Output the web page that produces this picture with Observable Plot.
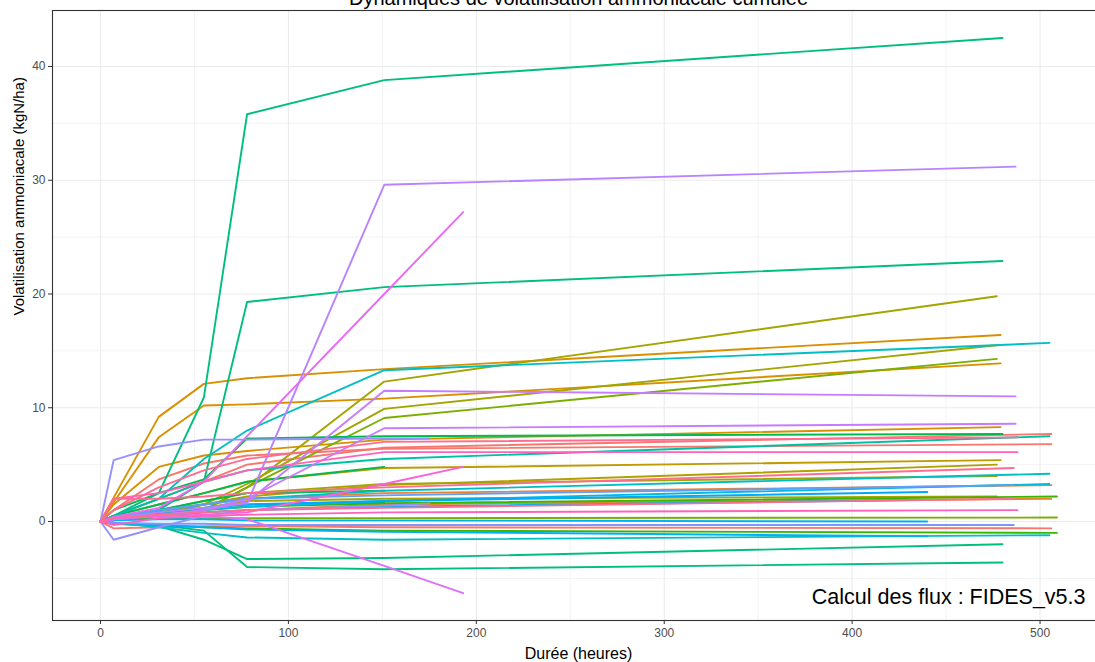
<!DOCTYPE html>
<html><head><meta charset="utf-8">
<script src="https://cdn.jsdelivr.net/npm/d3@7"></script>
<script src="https://cdn.jsdelivr.net/npm/@observablehq/plot@0.6"></script>
<style>
html,body{margin:0;padding:0;background:#fff;overflow:hidden;width:1095px;height:662px}
#chart{width:1095px;height:662px;overflow:hidden}
#chart svg{display:block;max-width:none !important;width:1106px !important;height:662px !important;font-family:"Liberation Sans",Arial,sans-serif}
</style>
</head><body><div id="chart"></div>
<script>
// Shared measurement times (hours); the last point of each series is at its own end time
const times = [0, 7, 31, 55, 78, 151];

// Each row: [series id, end time (h), values at 0,7,31,55,78,151,end] (kgN/ha)
const redOrangeSeries = [
  ["S01", 506, [0, 0.5, 2.0, 3.5, 5.0, 6.5, 7.7]],
  ["S02", 506, [0, 1.0, 3.7, 5.1, 5.8, 6.4, 6.8]],
  ["S03", 506, [0, -0.6, -0.5, -0.4, -0.4, -0.5, -0.6]],
  ["S04", 506, [0, 0.3, 1.0, 1.5, 2.0, 2.5, 3.2]],
  ["S05", 506, [0, 0.2, 0.5, 0.8, 1.0, 1.5, 2.0]],
  ["S06", 479, [0, 2.1, 9.2, 12.1, 12.6, 13.4, 16.4]],
  ["S07", 479, [0, 1.7, 7.4, 10.2, 10.3, 10.8, 13.9]],
  ["S08", 479, [0, 1.5, 4.8, 5.8, 6.2, 7.2, 8.3]]
];
const oliveGreenSeries = [
  ["S09", 479, [0, 0.5, 1.5, 2.5, 3.5, 4.7, 5.4]],
  ["S10", 477, [0, 0.3, 0.8, 1.5, 2.2, 3.2, 5.0]],
  ["S11", 477, [0, 0.3, 0.5, 1.0, 3.0, 12.3, 19.8]],
  ["S12", 477, [0, 0.3, 0.5, 1.5, 3.3, 9.9, 15.5]],
  ["S13", 477, [0, 0.3, 1.0, 1.8, 2.5, 3.3, 4.0]],
  ["S14", 477, [0, 0.2, 0.5, 1.2, 1.8, 2.0, 2.2]],
  ["S15", 477, [0, 0.3, 0.5, 1.0, 3.0, 9.1, 14.3]],
  ["S16", 509, [0, 0.2, 0.3, 0.3, 0.3, 0.3, 0.35]],
  ["S17", 509, [0, 0.3, 0.8, 1.0, 1.3, 1.6, 2.2]],
  ["S18", 509, [0, -0.2, -0.3, -0.5, -0.6, -0.8, -1.0]],
  ["S19", 151, [0, 0.5, 1.5, 2.5, 3.5, 4.8, null]],
  ["S20", 151, [0, 0.3, 1.0, 1.8, 2.5, 2.7, null]],
  ["S21", 151, [0, 0.3, 0.7, 1.2, 1.5, 1.7, null]],
  ["S22", 480, [0, 1.0, 2.5, 3.7, 7.3, 7.5, 7.7]],
  ["S23", 480, [0, 0.5, 2.5, 10.9, 35.8, 38.8, 42.5]],
  ["S24", 480, [0, 0.3, 1.0, 3.5, 19.3, 20.6, 22.9]],
  ["S25", 480, [0, -0.2, -0.4, -1.6, -3.3, -3.2, -2.0]],
  ["S26", 480, [0, -0.1, -0.3, -0.8, -4.0, -4.2, -3.6]]
];
const cyanBlueSeries = [
  ["S27", 505, [0, -0.1, -0.5, -1.0, -1.4, -1.6, -1.2]],
  ["S28", 505, [0, 0.5, 2.0, 5.5, 8.0, 13.3, 15.7]],
  ["S29", 505, [0, 0.5, 2.0, 3.5, 4.5, 5.5, 7.5]],
  ["S30", 505, [0, 0.3, 1.0, 1.5, 2.0, 2.7, 4.2]],
  ["S31", 505, [0, 0.2, 0.6, 1.0, 1.3, 1.8, 3.3]],
  ["S32", 440, [0, 0.3, 0.8, 1.2, 1.5, 1.8, 2.6]],
  ["S33", 440, [0, 0.2, 0.5, 0.8, 1.0, 1.3, 1.9]],
  ["S34", 440, [0, 0.1, 0.2, 0.2, 0.1, 0.1, 0.0]],
  ["S35", 440, [0, -0.1, -0.3, -0.5, -0.7, -0.9, -1.3]],
  ["S36", 486, [0, 0.3, 1.0, 1.5, 2.0, 2.3, 3.2]],
  ["S37", 486, [0, -0.1, -0.2, -0.2, -0.3, -0.3, -0.3]]
];
const purplePinkSeries = [
  ["S38", 175, [0, -1.6, -0.5, 0.5, 1.0, 1.4, 1.6]],
  ["S39", 175, [0, 5.4, 6.6, 7.2, 7.2, 7.3, 7.3]],
  ["S40", 487, [0, 0.3, 0.8, 1.2, 1.6, 29.6, 31.2]],
  ["S41", 487, [0, 0.2, 0.5, 1.0, 1.7, 11.5, 11.0]],
  ["S42", 487, [0, 0.3, 0.6, 1.0, 2.0, 8.2, 8.6]],
  ["S43", 193, [0, 0.4, 1.2, 3.5, 7.5, 20.0, 27.2]],
  ["S44", 193, [0, 0.2, 0.5, 0.5, 0.2, -3.9, -6.3]],
  ["S45", 193, [0, 0.3, 0.5, 0.6, 0.8, 3.3, 4.8]],
  ["S46", 488, [0, 1.0, 3.0, 4.5, 5.5, 7.0, 7.4]],
  ["S47", 488, [0, 2.0, 2.5, 3.5, 4.5, 6.1, 6.1]],
  ["S48", 486, [0, 2.0, 2.0, 2.2, 2.5, 3.0, 4.7]],
  ["S49", 486, [0, 0.3, 0.6, 0.8, 1.0, 1.2, 2.0]],
  ["S50", 488, [0, -0.3, 0.3, 0.5, 0.6, 0.8, 1.0]]
];

// Colour scale range (ggplot-like hue palette), one per series in order
const palette = [
  "#F8766D","#F8766D","#F8766D","#EA8331","#EA8331","#D89000","#D89000","#D89000",
  "#C09B00","#B0A000","#A3A500","#A3A500","#A3A500","#A3A500","#7CAE00","#7CAE00","#39B600","#39B600",
  "#00BB4E","#00BB4E","#00BB4E","#00BB4E","#00BF7D","#00BF7D","#00BF7D","#00BF7D",
  "#00BFC4","#00BFC4","#00C1A3","#00BFC4","#00BAE0","#00A9FF","#00B0F6","#00B0F6","#00B0F6","#619CFF","#7F96FF",
  "#9590FF","#9590FF","#B983FF","#C77CFF","#C77CFF","#E76BF3","#DC71FA","#FA62DB",
  "#FF6C91","#FF62BC","#FF6C91","#FF6C91","#FF62BC"
];

const title = "Dynamiques de volatilisation ammoniacale cumulée";
const xLabel = "Durée (heures)";
const yLabel = "Volatilisation ammoniacale (kgN/ha)";
const caption = "Calcul des flux : FIDES_v5.3";
const xTicks = [0, 100, 200, 300, 400, 500];
const xMinor = [50, 150, 250, 350, 450];
const yTicks = [0, 10, 20, 30, 40];
const yMinor = [-5, 5, 15, 25, 35];

const allSeries = [...redOrangeSeries, ...oliveGreenSeries, ...cyanBlueSeries, ...purplePinkSeries];
const ids = allSeries.map(s => s[0]);
const rows = [];
for (const [id, end, vals] of allSeries) {
  const ts = [...times, end];
  vals.forEach((v, i) => { if (v !== null) rows.push({id, t: ts[i], v}); });
}

const W = 1106, H = 662;
const plot = Plot.plot({
  width: W, height: H,
  marginLeft: 52, marginRight: 2, marginTop: 10, marginBottom: 42,
  style: {fontFamily: '"Liberation Sans", Arial, sans-serif', background: "#fff", maxWidth: "none"},
  x: {domain: [-25.55, 534.3]},
  y: {domain: [-8.70, 44.92]},
  color: {type: "ordinal", domain: ids, range: palette},
  marks: [
    Plot.ruleX(xMinor, {stroke: "#EBEBEB", strokeWidth: 0.6}),
    Plot.ruleY(yMinor, {stroke: "#EBEBEB", strokeWidth: 0.6}),
    Plot.ruleX(xTicks, {stroke: "#EBEBEB", strokeWidth: 1.1}),
    Plot.ruleY(yTicks, {stroke: "#EBEBEB", strokeWidth: 1.1}),
    Plot.line(rows, {x: "t", y: "v", z: "id", stroke: "id", strokeWidth: 1.9, curve: "linear"}),
    Plot.frame({stroke: "#333333", strokeWidth: 1.1}),
    Plot.axisX(xTicks, {tickSize: 4, tickPadding: 4, fontSize: 12, color: "#4D4D4D", stroke: "#333", label: null}),
    Plot.axisY(yTicks, {tickSize: 4, tickPadding: 3, fontSize: 12, color: "#4D4D4D", stroke: "#333", label: null}),
    Plot.text([caption], {frameAnchor: "bottom-right", textAnchor: "end", lineAnchor: "bottom", dx: -19, dy: -17, fontSize: 21.5, fill: "#000"}),
    Plot.text([xLabel], {frameAnchor: "bottom", lineAnchor: "bottom", dy: 38, fontSize: 16, fill: "#000"}),
    Plot.text([yLabel], {frameAnchor: "left", rotate: -90, dx: -33, fontSize: 15, fill: "#000"}),
    Plot.text([title], {frameAnchor: "top", lineAnchor: "bottom", dy: -6, fontSize: 20, fill: "#000"})
  ]
});
document.getElementById("chart").appendChild(plot);
</script>
</body></html>
